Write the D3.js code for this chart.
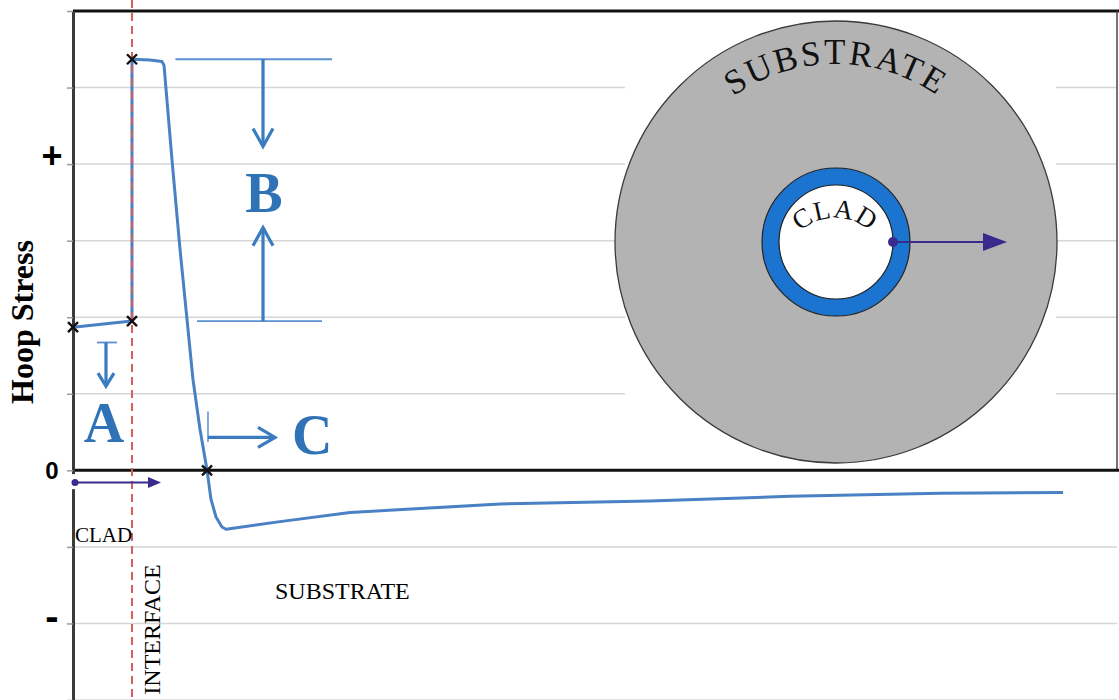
<!DOCTYPE html>
<html>
<head>
<meta charset="utf-8">
<script src="https://cdn.jsdelivr.net/npm/d3@7"></script>
<style>
  body { margin: 0; background: #fff; }
  svg { display: block; }
</style>
</head>
<body>
<div id="chart"></div>
<script>
// radial position from the bore (arbitrary units) and hoop stress (arbitrary units)
const depth = [0, 5.65, 5.65, 7.38, 8.52, 8.72, 8.91, 9.48, 10.25, 11.49, 12.16, 12.84,
  13.22, 13.70, 14.27, 14.66, 19.83, 26.53, 33.24, 40.90, 55.27, 68.68, 83.05, 94.83];
const hoopStress = [1.87, 1.95, 5.37, 5.36, 5.34, 5.29, 4.98, 4.06, 2.89, 1.19, 0.54, 0,
  -0.38, -0.61, -0.74, -0.77, -0.67, -0.55, -0.50, -0.44, -0.40, -0.34, -0.30, -0.29];
const markedIndex = [0, 1, 2, 11];
const interfaceDepth = 5.65;
const yTickValues = [4, 0, -2];
const yTickLabels = ['+', '0', '-'];

(function() {
  const width = 1119;
  const height = 700;
  const blue = '#4a80c4';
  const annBlue = '#3b7bbf';
  const purple = '#3a2a8c';
  const serif = '"Liberation Serif", "Times New Roman", serif';
  const sans = '"Liberation Sans", Arial, sans-serif';

  const svg = d3.select('#chart').append('svg')
    .attr('width', width)
    .attr('height', height);

  const x = d3.scaleLinear().domain([0, 100]).range([73, 1117]);
  const y = d3.scaleLinear().domain([-3, 6]).range([700, 11]);

  // gridlines
  svg.append('g')
    .selectAll('line')
    .data(d3.range(-3, 6).filter(v => v !== 0))
    .join('line')
    .attr('x1', x(0)).attr('x2', x(100))
    .attr('y1', d => y(d)).attr('y2', d => y(d))
    .attr('stroke', '#d6d6d6')
    .attr('stroke-width', 1.5);

  // blank area behind the cross-section sketch
  svg.append('rect')
    .attr('x', 625).attr('y', 14)
    .attr('width', 431).attr('height', 453)
    .attr('fill', '#fff');

  // frame: top border, right border, zero line
  svg.append('line')
    .attr('x1', x(0)).attr('x2', width)
    .attr('y1', y(6)).attr('y2', y(6))
    .attr('stroke', '#111').attr('stroke-width', 3);
  svg.append('line')
    .attr('x1', x(100)).attr('x2', x(100))
    .attr('y1', y(6)).attr('y2', y(0))
    .attr('stroke', '#444').attr('stroke-width', 1.5);
  svg.append('line')
    .attr('x1', x(0)).attr('x2', width)
    .attr('y1', y(0)).attr('y2', y(0))
    .attr('stroke', '#111').attr('stroke-width', 3);

  // left axis
  const yAxis = d3.axisLeft(y)
    .tickValues(d3.range(-3, 7))
    .tickSize(6)
    .tickSizeOuter(0)
    .tickFormat('');
  const axisG = svg.append('g')
    .attr('transform', `translate(${x(0)},0)`)
    .call(yAxis);
  axisG.select('.domain').attr('stroke', '#3a3a3a').attr('stroke-width', 3);
  axisG.selectAll('.tick line').attr('stroke', '#9a9a9a').attr('stroke-width', 1.5);

  // small gap in the axis where the radial arrow starts
  svg.append('rect')
    .attr('x', 70).attr('y', y(-0.05))
    .attr('width', 7).attr('height', 15)
    .attr('fill', '#fff');

  // tick labels
  const tickSize = {'+': 36, '0': 24, '-': 40};
  const tickNudge = {'+': -9, '0': 0, '-': -7};
  svg.append('g')
    .selectAll('text')
    .data(yTickValues)
    .join('text')
    .attr('x', 52)
    .attr('y', (d, i) => y(d) + tickNudge[yTickLabels[i]])
    .attr('dy', '0.35em')
    .attr('text-anchor', 'middle')
    .style('font-family', sans)
    .style('font-weight', 'bold')
    .style('font-size', (d, i) => tickSize[yTickLabels[i]] + 'px')
    .text((d, i) => yTickLabels[i]);

  svg.append('text')
    .attr('transform', 'translate(33, 322) rotate(-90)')
    .attr('text-anchor', 'middle')
    .style('font-family', serif)
    .style('font-weight', 'bold')
    .style('font-size', '32px')
    .text('Hoop Stress');

  // stress curve
  const points = depth.map((d, i) => [d, hoopStress[i]]);
  const line = d3.line()
    .x(d => x(d[0]))
    .y(d => y(d[1]));
  svg.append('path')
    .datum(points)
    .attr('fill', 'none')
    .attr('stroke', blue)
    .attr('stroke-width', 3)
    .attr('stroke-linejoin', 'round')
    .attr('d', line);

  // interface line
  svg.append('line')
    .attr('x1', x(interfaceDepth)).attr('x2', x(interfaceDepth))
    .attr('y1', 0).attr('y2', height)
    .attr('stroke', '#d45f5f')
    .attr('stroke-width', 2)
    .attr('stroke-dasharray', '8,5');

  // x markers
  const mk = svg.append('g')
    .selectAll('g')
    .data(markedIndex.map(i => points[i]))
    .join('g')
    .attr('transform', d => `translate(${x(d[0])},${y(d[1])})`);
  mk.append('path')
    .attr('d', 'M-5,-5L5,5M-5,5L5,-5')
    .attr('stroke', '#111')
    .attr('stroke-width', 2.4);

  // helpers for annotation arrows
  const seg = (x1, y1, x2, y2, color, w) => svg.append('line')
    .attr('x1', x1).attr('y1', y1).attr('x2', x2).attr('y2', y2)
    .attr('stroke', color).attr('stroke-width', w);
  const openHead = (tx, ty, ang, len, half) => {
    const c = Math.cos(ang), s = Math.sin(ang);
    const bx = tx - len * c, by = ty - len * s;
    svg.append('path')
      .attr('d', `M${bx - half * s},${by + half * c}L${tx},${ty}L${bx + half * s},${by - half * c}`)
      .attr('fill', 'none')
      .attr('stroke', annBlue)
      .attr('stroke-width', 3.2)
      .attr('stroke-linejoin', 'miter');
  };
  const solidHead = (tx, ty, len, half) => {
    svg.append('path')
      .attr('d', `M${tx},${ty}L${tx - len},${ty - half}L${tx - len},${ty + half}Z`)
      .attr('fill', purple);
  };
  const bigLetter = (lx, ly, anchor, txt) => svg.append('text')
    .attr('x', lx).attr('y', ly)
    .attr('text-anchor', anchor)
    .attr('fill', '#2f72b6')
    .style('font-family', serif)
    .style('font-weight', 'bold')
    .style('font-size', '56px')
    .text(txt);

  // B: magnitude of the jump at the interface
  seg(x(9.81), y(5.37), x(24.81), y(5.37), '#5b8fd0', 1.8);
  seg(x(11.88), y(1.95), x(23.85), y(1.95), '#5b8fd0', 1.8);
  seg(x(18.2), y(5.37), x(18.2), y(4.25), annBlue, 3.2);
  openHead(x(18.2), y(4.23), Math.PI / 2, 18, 10);
  seg(x(18.2), y(1.95), x(18.2), y(3.15), annBlue, 3.2);
  openHead(x(18.2), y(3.17), -Math.PI / 2, 18, 10);
  bigLetter(x(18.3), y(3.38), 'middle', 'B');

  // A: clad stress level
  seg(x(2.30), y(1.67), x(4.21), y(1.67), '#5b8fd0', 1.8);
  seg(x(3.16), y(1.67), x(3.16), y(1.12), annBlue, 3.2);
  openHead(x(3.16), y(1.10), Math.PI / 2, 13, 8);
  bigLetter(x(2.97), y(0.37), 'middle', 'A');

  // C: depth of the tensile zone
  seg(x(12.93), y(0.77), x(12.93), y(0.37), '#5b8fd0', 1.5);
  seg(x(12.93), y(0.43), x(19.2), y(0.43), annBlue, 3.2);
  openHead(x(19.35), y(0.43), 0, 17, 10);
  bigLetter(x(20.98), y(0.21), 'start', 'C');

  // radial direction arrow
  svg.append('circle')
    .attr('cx', x(0.19)).attr('cy', y(-0.16)).attr('r', 3.5)
    .attr('fill', purple);
  seg(x(0.19), y(-0.16), x(7.4), y(-0.16), purple, 2);
  solidHead(x(8.43), y(-0.16), 13, 5.5);

  // region labels
  svg.append('text')
    .attr('x', x(0.19)).attr('y', y(-0.93))
    .style('font-family', serif)
    .style('font-size', '21px')
    .text('CLAD');
  svg.append('text')
    .attr('transform', `translate(${x(8.33)},${y(-2.93)}) rotate(-90)`)
    .style('font-family', serif)
    .style('font-size', '24px')
    .text('INTERFACE');
  svg.append('text')
    .attr('x', x(19.35)).attr('y', y(-1.68))
    .style('font-family', serif)
    .style('font-size', '24px')
    .text('SUBSTRATE');

  // cross-section sketch
  const cx = 836, cy = 242;
  const sk = svg.append('g');
  sk.append('circle')
    .attr('cx', cx).attr('cy', cy).attr('r', 221)
    .attr('fill', '#b3b3b3')
    .attr('stroke', '#3a3a3a').attr('stroke-width', 1.3);
  sk.append('circle')
    .attr('cx', cx).attr('cy', cy).attr('r', 74)
    .attr('fill', '#1b74cf')
    .attr('stroke', '#222').attr('stroke-width', 1.2);
  sk.append('circle')
    .attr('cx', cx).attr('cy', cy).attr('r', 57)
    .attr('fill', '#fff')
    .attr('stroke', '#222').attr('stroke-width', 1.2);

  const arc = (ax, ay, r, deg) => {
    const a = deg * Math.PI / 180;
    return `M${ax - r * Math.sin(a)},${ay - r * Math.cos(a)}A${r},${r} 0 0 1 ${ax + r * Math.sin(a)},${ay - r * Math.cos(a)}`;
  };
  const defs = svg.append('defs');
  defs.append('path').attr('id', 'arcSub').attr('d', arc(cx, cy, 178, 70));
  defs.append('path').attr('id', 'arcClad').attr('d', arc(835, 270, 52, 80));

  sk.append('text')
    .style('font-family', serif)
    .style('font-size', '35px')
    .style('letter-spacing', '2.5px')
    .attr('fill', '#111')
    .append('textPath')
    .attr('href', '#arcSub')
    .attr('startOffset', '50%')
    .attr('text-anchor', 'middle')
    .text('SUBSTRATE');
  sk.append('text')
    .style('font-family', serif)
    .style('font-size', '27px')
    .style('letter-spacing', '1px')
    .attr('fill', '#111')
    .append('textPath')
    .attr('href', '#arcClad')
    .attr('startOffset', '50%')
    .attr('text-anchor', 'middle')
    .text('CLAD');

  sk.append('circle')
    .attr('cx', 893).attr('cy', cy).attr('r', 5)
    .attr('fill', purple);
  seg(893, cy, 990, cy, purple, 2.2);
  solidHead(1007, cy, 24, 9);
})();
</script>
</body>
</html>
